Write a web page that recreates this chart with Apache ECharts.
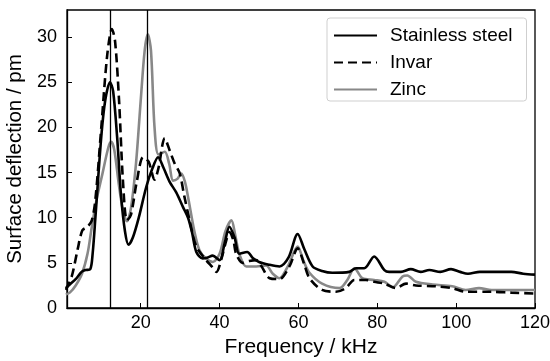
<!DOCTYPE html>
<html>
<head>
<meta charset="utf-8">
<script src="https://cdn.jsdelivr.net/npm/echarts@6/dist/echarts.min.js"></script>
<style>html,body{margin:0;padding:0;background:#fff}#c{width:550px;height:361px}</style>
</head>
<body>
<div id="c"></div>
<script>
const seriesNames = ['Stainless steel', 'Invar', 'Zinc'];
const xTicks = [20, 40, 60, 80, 100, 120];
const yTicks = [0, 5, 10, 15, 20, 25, 30];
const markerFreqs = [12.3, 21.6];

const steelFreq = [1, 2, 3.5, 5, 6, 7.2, 7.8, 8.5, 10, 11, 12.2, 13, 14, 15, 16, 16.9, 18, 19.5, 21.4, 23, 24.4, 25.8, 27.3, 29, 30.7, 32, 33, 34.1, 35.7, 37, 38.2, 40, 41.3, 42.5, 43.8, 45, 47, 48.5, 50, 52.5, 55.2, 57.5, 59.8, 61.5, 63.6, 66, 68.6, 72.9, 74.6, 76.7, 79.2, 81.8, 83, 86, 88.5, 91, 93.2, 96, 98.7, 101, 103, 106, 110, 114, 117, 120];
const steelVal = [2.2, 2.6, 3.2, 4.0, 4.2, 4.3, 6.0, 10, 19, 23, 25, 24, 19, 12.5, 8.5, 7.0, 7.8, 10, 13.4, 15.5, 16.7, 15.5, 14.0, 12.8, 11.2, 10, 8.4, 6.2, 5.5, 5.6, 5.8, 5.3, 7.2, 9.0, 7.8, 6.0, 6.2, 5.5, 5.1, 4.8, 4.6, 5.6, 8.2, 6.5, 4.6, 4.1, 3.9, 4.0, 4.4, 4.4, 5.7, 4.2, 4.0, 4.0, 4.3, 4.0, 4.2, 4.0, 4.3, 4.0, 3.8, 4.0, 4.0, 4.0, 3.8, 3.7];

const invarFreq = [1, 2.5, 4, 5.2, 6.5, 7.6, 8.5, 10, 11.5, 12.7, 13.5, 14.5, 15.5, 16.5, 17.5, 19, 20.6, 22, 23.5, 24.5, 26.1, 27.3, 28.6, 29.9, 31, 32.4, 34.1, 36.6, 38, 39.2, 40.5, 41.7, 42.5, 43.5, 44.2, 45.9, 47.5, 49.3, 50.5, 52.7, 55.2, 57.7, 59.8, 61.5, 62.8, 66, 69.5, 72, 74.2, 77.1, 79.2, 81.8, 84.7, 87.3, 89.8, 94.9, 99, 102.4, 109, 114, 120];
const invarVal = [2.0, 3.5, 6.5, 8.6, 9.0, 9.7, 12, 20, 28, 30.9, 29.5, 23, 14, 9.7, 10.3, 14, 16.7, 16.2, 14.2, 15.5, 18.8, 17.5, 16.0, 14.9, 12.5, 9.7, 6.8, 5.3, 4.6, 4.0, 5.5, 7.5, 8.4, 7.5, 6.0, 5.0, 5.2, 5.3, 4.7, 3.3, 3.2, 4.6, 6.6, 4.8, 3.3, 2.0, 1.8, 2.2, 3.1, 3.1, 2.9, 2.7, 2.2, 2.7, 2.5, 2.4, 2.2, 1.8, 1.8, 1.7, 1.6];

const zincFreq = [1, 2, 3.5, 5.1, 6.5, 7.6, 8.8, 10.1, 11.8, 12.5, 13.3, 14.5, 15.5, 16.5, 17.5, 18.8, 20, 21, 21.8, 22.6, 23.5, 24.5, 26.1, 27.2, 28.2, 29.3, 30.3, 31.2, 32, 33.7, 34.9, 36.5, 38.3, 40, 41.5, 43, 44, 45, 46.8, 49.3, 51.8, 53.5, 55.2, 57.3, 59.8, 61.3, 62.8, 66, 70.4, 72.4, 74.2, 76.2, 79.2, 81.8, 83.9, 86.4, 87.6, 89.8, 94, 99, 102.4, 105.8, 109, 114, 120];
const zincVal = [1.5, 1.7, 2.5, 3.8, 6, 9, 12, 14.5, 17.8, 18.4, 17.5, 13.5, 10.8, 9.6, 11, 16, 23, 28.5, 30.3, 28.5, 20, 17, 17.3, 16.0, 14.1, 14.3, 14.9, 14, 12.3, 8.3, 6.4, 5.5, 5.1, 6.0, 8.5, 9.7, 8, 6.0, 4.6, 4.6, 4.7, 3.8, 3.3, 4.6, 6.8, 5.2, 3.9, 2.7, 2.2, 3.1, 4.4, 3.3, 3.1, 2.9, 2.3, 3.5, 3.6, 2.9, 2.6, 2.4, 2.0, 2.2, 2.0, 2.0, 2.0];

const pairs = (fs, vs) => fs.map((f, i) => [f, vs[i]]);
const font = '"Liberation Sans", Arial, sans-serif';

const chart = echarts.init(document.getElementById('c'), null, {renderer: 'canvas'});
chart.setOption({
  animation: false,
  backgroundColor: '#fff',
  grid: {left: 67, right: 15, top: 10, bottom: 53, show: true, borderColor: '#000', borderWidth: 1.3,
         outerBoundsMode: 'none', containLabel: false},
  legend: {
    orient: 'vertical', left: 327, top: 18,
    data: seriesNames,
    itemWidth: 43, itemHeight: 14, itemGap: 8,
    padding: [8, 14, 2, 6],
    borderColor: '#cfcfcf', borderWidth: 1, borderRadius: 3,
    itemStyle: {opacity: 0},
    textStyle: {fontFamily: font, fontSize: 19, color: '#000', padding: [0, 0, 0, 8]}
  },
  xAxis: {
    type: 'value', min: 1.3, max: 120,
    name: 'Frequency / kHz', nameLocation: 'middle', nameGap: 29,
    nameTextStyle: {fontFamily: font, fontSize: 21, color: '#000'},
    axisLine: {show: true, lineStyle: {color: '#000', width: 1.3}},
    axisTick: {show: true, inside: true, length: 5, lineStyle: {color: '#000'}, customValues: xTicks},
    axisLabel: {fontFamily: font, fontSize: 18, color: '#000', margin: 6, customValues: xTicks},
    splitLine: {show: false}
  },
  yAxis: {
    type: 'value', min: 0, max: 33,
    name: 'Surface deflection / pm', nameLocation: 'middle', nameGap: 38,
    nameTextStyle: {fontFamily: font, fontSize: 20.5, color: '#000'},
    axisLine: {show: true, lineStyle: {color: '#000', width: 1.3}},
    axisTick: {show: true, inside: true, length: 5, lineStyle: {color: '#000'}, customValues: yTicks},
    axisLabel: {fontFamily: font, fontSize: 18, color: '#000', margin: 10, customValues: yTicks},
    splitLine: {show: false}
  },
  series: [
    {
      name: seriesNames[0], type: 'line', data: pairs(steelFreq, steelVal),
      showSymbol: false, symbol: 'none', smooth: 0.3,
      lineStyle: {color: '#000', width: 2.6}, itemStyle: {color: '#000'}, z: 3,
      markLine: {
        silent: true, symbol: 'none', label: {show: false},
        lineStyle: {color: '#000', width: 1.3, type: 'solid'},
        data: markerFreqs.map(f => ({xAxis: f}))
      }
    },
    {
      name: seriesNames[1], type: 'line', data: pairs(invarFreq, invarVal),
      showSymbol: false, symbol: 'none', smooth: 0.3,
      lineStyle: {color: '#000', width: 2.6, type: [9, 5]}, itemStyle: {color: '#000'}, z: 4
    },
    {
      name: seriesNames[2], type: 'line', data: pairs(zincFreq, zincVal),
      showSymbol: false, symbol: 'none', smooth: 0.3,
      lineStyle: {color: '#888', width: 2.6}, itemStyle: {color: '#888'}, z: 2
    }
  ]
});
</script>
</body>
</html>
